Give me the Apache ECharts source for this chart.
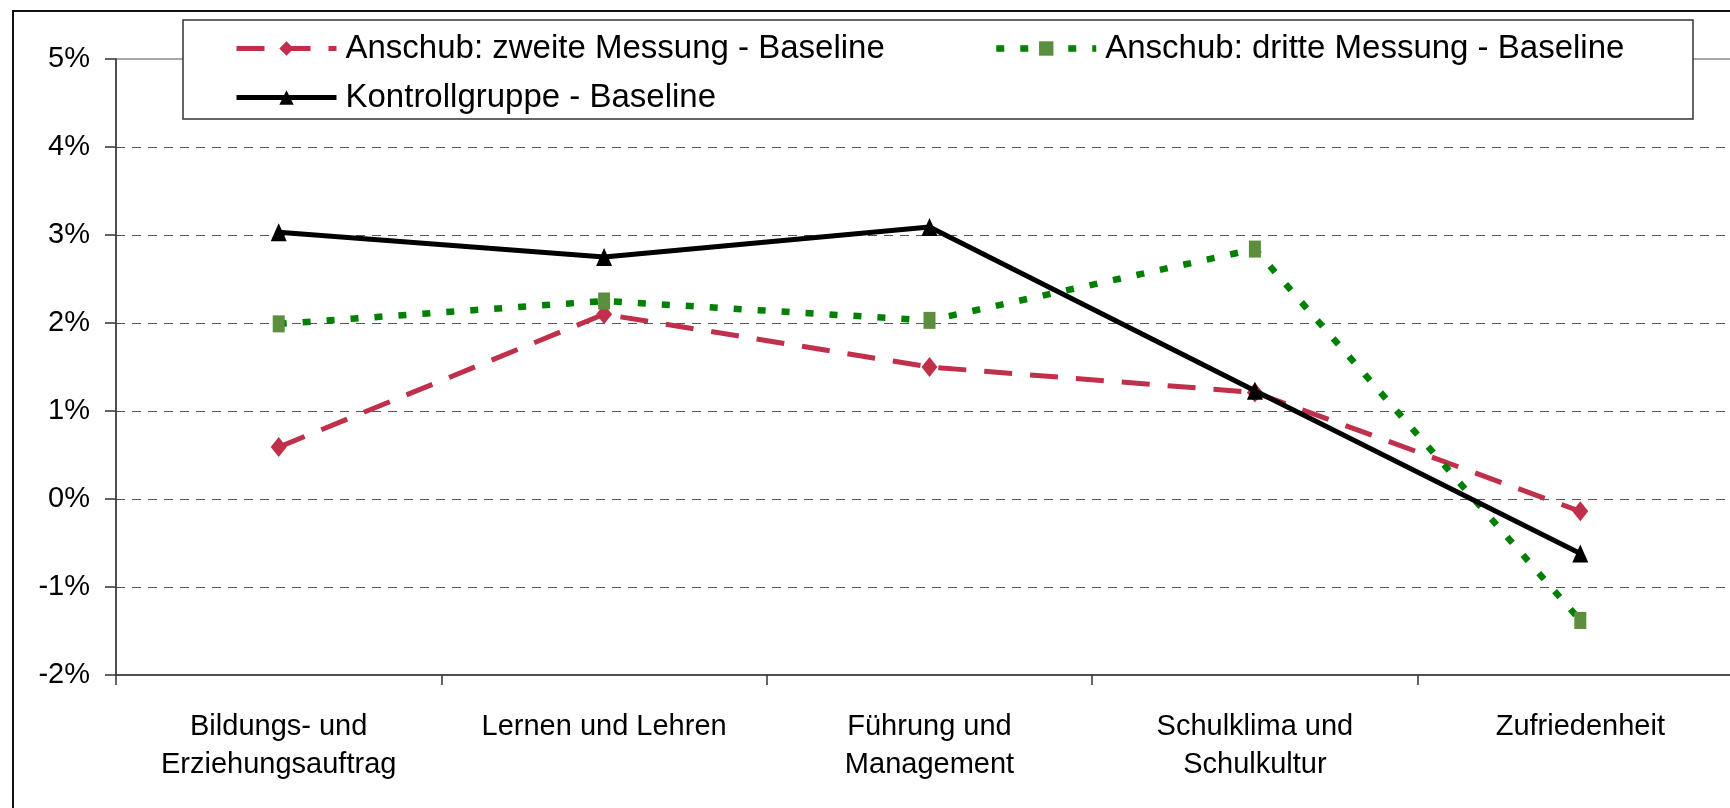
<!DOCTYPE html>
<html>
<head>
<meta charset="utf-8">
<script src="https://cdn.jsdelivr.net/npm/echarts@6/dist/echarts.min.js"></script>
<style>
  html, body { margin: 0; padding: 0; background: #fff; overflow: hidden; width: 1730px; height: 808px; }
  #chart { width: 1750px; height: 808px; }
</style>
</head>
<body>
<div id="chart"></div>
<script>
const categories = ['Bildungs- und\nErziehungsauftrag', 'Lernen und Lehren', 'Führung und\nManagement', 'Schulklima und\nSchulkultur', 'Zufriedenheit'];
const seriesNames = ['Anschub: zweite Messung - Baseline', 'Anschub: dritte Messung - Baseline', 'Kontrollgruppe - Baseline'];
const zweiteMessung = [0.59, 2.10, 1.50, 1.21, -0.14];
const dritteMessung = [1.99, 2.25, 2.03, 2.84, -1.38];
const kontrollgruppe = [3.03, 2.75, 3.09, 1.23, -0.62];
const yMin = -2, yMax = 5, yInterval = 1;

const FONT = 'Liberation Sans, Arial, sans-serif';
const chart = echarts.init(document.getElementById('chart'), null, { renderer: 'canvas' });

const legendText = { fontFamily: FONT, fontSize: 33, color: '#000', padding: [0, 0, 0, 4] };
const styles = [
  { line: { color: '#C0304A', width: 5, type: [28, 18] }, item: { color: '#C0304A' }, symbol: 'diamond', size: [16, 20] },
  { line: { color: '#008000', width: 6.5, type: [8, 16] }, item: { color: '#5B8F3E' }, symbol: 'rect', size: [12, 17] },
  { line: { color: '#000', width: 5, type: 'solid' }, item: { color: '#000' }, symbol: 'triangle', size: [16, 18] }
];
const legendPos = [[234, 32], [993, 32], [234, 81]];

chart.setOption({
  animation: false,
  backgroundColor: '#fff',
  grid: {
    left: 116, top: 59, width: 1627, bottom: 133,
    show: true, borderColor: '#8a8a8a', borderWidth: 1.5, backgroundColor: 'transparent'
  },
  graphic: [
    { type: 'rect', z: 100, shape: { x: 13, y: 11, width: 1800, height: 900 },
      style: { fill: 'none', stroke: '#111', lineWidth: 2 } },
    { type: 'rect', z: 100, shape: { x: 183, y: 20, width: 1510, height: 99 },
      style: { fill: '#fff', stroke: '#333', lineWidth: 1.5 } }
  ],
  legend: seriesNames.map((n, i) => ({
    data: [{ name: n, lineStyle: styles[i].line, itemStyle: styles[i].item }],
    left: legendPos[i][0], top: legendPos[i][1], z: 200,
    itemWidth: 100, itemHeight: 18, itemGap: 0, padding: 0,
    textStyle: legendText
  })),
  xAxis: {
    type: 'category',
    data: categories,
    boundaryGap: true,
    axisLine: { onZero: false, lineStyle: { color: '#333', width: 1.5 } },
    axisTick: { show: true, length: 10, lineStyle: { color: '#333', width: 1.5 } },
    axisLabel: { fontFamily: FONT, fontSize: 29, color: '#000', margin: 33, lineHeight: 38, interval: 0 },
    splitLine: { show: false }
  },
  yAxis: {
    type: 'value',
    min: yMin, max: yMax, interval: yInterval,
    axisLine: { show: true, lineStyle: { color: '#333', width: 1.5 } },
    axisTick: { show: true, length: 11, lineStyle: { color: '#333', width: 1.5 } },
    axisLabel: { fontFamily: FONT, fontSize: 29, color: '#000', margin: 26, formatter: v => v + '%' },
    splitLine: { show: true, showMinLine: false, showMaxLine: false,
      lineStyle: { color: '#555', width: 1.2, type: [9, 7] } }
  },
  series: [zweiteMessung, dritteMessung, kontrollgruppe].map((d, i) => ({
    name: seriesNames[i], type: 'line', data: d,
    symbol: styles[i].symbol, symbolSize: styles[i].size,
    lineStyle: styles[i].line, itemStyle: styles[i].item, z: 3 + i
  }))
});
</script>
</body>
</html>
